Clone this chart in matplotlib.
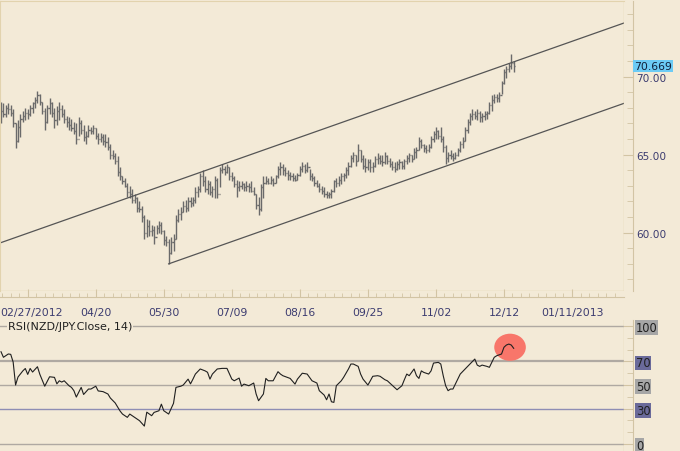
import numpy as np
import matplotlib.pyplot as plt
import matplotlib.transforms as mtransforms
from matplotlib.patches import Ellipse
from matplotlib.ticker import FixedLocator

# daily NZD/JPY bars (high, low, close)
hi = [68.40, 68.30, 68.20, 68.30, 68.20, 67.90, 67.00, 67.20, 67.60, 67.80,
      68.00, 67.90, 68.20, 68.40, 68.70, 69.10, 68.90, 68.40, 68.00, 68.20,
      68.60, 68.40, 68.00, 68.10, 68.40, 68.20, 67.90, 67.50, 67.40, 67.30,
      67.10, 67.00, 67.40, 67.20, 66.90, 66.50, 66.90, 66.80, 66.90, 66.70,
      66.40, 66.40, 66.30, 66.30, 66.10, 65.70, 65.30, 65.10, 64.90, 64.20,
      63.60, 63.50, 63.20, 63.00, 62.80, 62.50, 62.30, 62.00, 61.70, 61.10,
      60.90, 60.80, 60.50, 60.40, 60.50, 60.75, 60.70, 60.20, 59.80, 59.60,
      59.70, 59.90, 61.10, 61.50, 61.65, 62.00, 62.10, 62.30, 62.30, 62.30,
      62.90, 63.00, 63.80, 64.00, 63.60, 63.40, 63.30, 63.00, 63.60, 63.50,
      64.20, 64.40, 64.30, 64.40, 64.20, 63.90, 63.60, 63.40, 63.30, 63.30,
      63.20, 63.30, 63.20, 63.30, 62.90, 62.50, 62.30, 63.10, 63.60, 63.60,
      63.50, 63.60, 63.50, 63.70, 64.30, 64.50, 64.40, 64.20, 64.00, 63.90,
      63.80, 63.70, 63.80, 64.30, 64.50, 64.40, 64.50, 64.10, 63.80, 63.60,
      63.40, 63.20, 63.00, 62.90, 62.70, 62.60, 62.80, 63.40, 63.50, 63.60,
      63.80, 63.80, 64.20, 64.50, 65.00, 65.20, 65.00, 65.70, 65.30, 65.00,
      64.80, 64.70, 64.70, 64.50, 64.90, 65.10, 65.00, 65.00, 65.20, 65.00,
      64.80, 64.60, 64.50, 64.60, 64.70, 64.60, 64.70, 65.00, 65.10, 65.00,
      65.40, 65.50, 66.10, 66.00, 65.70, 65.60, 65.70, 66.20, 66.50, 66.80,
      66.60, 66.80, 66.20, 65.60, 65.20, 65.30, 65.10, 65.20, 65.40, 65.90,
      66.10, 66.80, 67.30, 67.70, 67.90, 67.80, 67.90, 67.80, 67.70, 67.80,
      67.80, 68.40, 68.80, 68.90, 68.90, 69.00, 69.70, 70.50, 70.70, 70.90,
      71.45, 71.00]
lo = [67.00, 67.40, 67.40, 67.60, 67.50, 66.80, 65.40, 65.80, 66.10, 67.10,
      67.20, 67.30, 67.50, 67.70, 68.00, 68.30, 68.20, 67.60, 66.60, 67.00,
      67.60, 67.40, 66.70, 66.90, 67.20, 67.40, 67.00, 66.80, 66.60, 66.50,
      66.30, 65.70, 66.20, 66.30, 65.90, 65.70, 66.10, 66.30, 66.30, 66.00,
      65.70, 65.80, 65.60, 65.50, 65.30, 64.70, 64.70, 64.40, 63.60, 63.40,
      63.10, 62.90, 62.30, 62.20, 61.90, 61.90, 61.30, 61.30, 60.70, 59.60,
      59.70, 59.80, 59.80, 59.30, 59.90, 60.00, 59.90, 59.20, 59.15, 58.00,
      58.60, 58.80, 59.60, 60.70, 60.80, 61.30, 61.30, 61.40, 61.65, 61.70,
      61.90, 62.30, 62.60, 63.00, 62.60, 62.50, 62.40, 62.30, 62.20, 62.20,
      62.90, 63.80, 63.70, 63.80, 63.40, 63.30, 62.90, 62.30, 62.70, 62.80,
      62.70, 62.70, 62.60, 62.60, 62.40, 61.50, 61.10, 61.40, 62.20, 63.10,
      63.10, 63.10, 63.00, 63.20, 63.50, 63.70, 63.70, 63.60, 63.40, 63.40,
      63.30, 63.30, 63.40, 63.60, 63.90, 63.80, 63.90, 63.40, 63.30, 63.00,
      62.90, 62.60, 62.50, 62.30, 62.20, 62.20, 62.20, 62.60, 62.90, 63.00,
      63.10, 63.30, 63.50, 63.70, 64.20, 64.50, 64.30, 64.60, 64.50, 64.10,
      63.90, 64.00, 63.90, 63.90, 64.20, 64.40, 64.40, 64.30, 64.40, 64.40,
      64.20, 64.00, 63.90, 64.00, 64.10, 64.10, 64.10, 64.40, 64.50, 64.50,
      64.70, 64.80, 65.30, 65.40, 65.20, 65.10, 65.20, 65.40, 65.80, 66.00,
      66.00, 65.80, 65.20, 64.40, 64.50, 64.70, 64.60, 64.70, 64.90, 65.20,
      65.40, 65.90, 66.40, 66.90, 67.20, 67.30, 67.20, 67.10, 67.10, 67.20,
      67.30, 67.60, 67.80, 68.30, 68.40, 68.40, 68.90, 69.50, 69.90, 70.30,
      70.50, 70.30]
cl = [67.80, 67.60, 68.00, 67.90, 67.70, 67.00, 65.90, 66.80, 67.30, 67.50,
      67.70, 67.60, 68.00, 68.30, 68.50, 68.80, 68.40, 67.80, 67.10, 68.00,
      68.30, 67.70, 67.20, 67.80, 67.90, 67.60, 67.30, 67.10, 66.90, 66.70,
      66.50, 66.00, 67.00, 66.60, 66.10, 66.20, 66.60, 66.50, 66.70, 66.20,
      66.00, 66.10, 65.90, 65.80, 65.50, 65.00, 64.90, 64.60, 63.90, 63.60,
      63.30, 63.00, 62.60, 62.50, 62.10, 62.20, 61.60, 61.50, 61.00, 60.00,
      60.40, 60.10, 60.20, 59.70, 60.30, 60.50, 60.10, 59.50, 59.40, 58.70,
      59.40, 59.60, 60.80, 61.20, 61.30, 61.70, 61.60, 62.00, 61.90, 62.10,
      62.60, 62.80, 63.60, 63.30, 62.80, 63.10, 62.60, 62.80, 63.40, 62.50,
      64.00, 64.10, 63.90, 64.20, 63.60, 63.50, 63.10, 62.90, 63.00, 63.10,
      62.90, 63.00, 62.90, 62.70, 62.50, 61.80, 61.50, 62.90, 63.20, 63.30,
      63.20, 63.40, 63.20, 63.60, 64.10, 64.20, 64.00, 63.80, 63.70, 63.60,
      63.50, 63.40, 63.70, 64.10, 64.30, 64.00, 64.20, 63.60, 63.50, 63.20,
      63.00, 62.80, 62.70, 62.50, 62.40, 62.50, 62.70, 63.30, 63.20, 63.40,
      63.60, 63.70, 64.00, 64.30, 64.80, 65.00, 64.60, 65.30, 64.70, 64.30,
      64.20, 64.50, 64.20, 64.30, 64.70, 64.80, 64.60, 64.50, 64.90, 64.60,
      64.40, 64.20, 64.10, 64.40, 64.50, 64.30, 64.60, 64.80, 65.00, 64.70,
      65.20, 65.30, 65.90, 65.60, 65.40, 65.30, 65.50, 66.00, 66.30, 66.50,
      66.20, 66.00, 65.50, 64.80, 65.00, 64.90, 64.80, 65.00, 65.30, 65.70,
      65.90, 66.60, 67.10, 67.50, 67.60, 67.50, 67.70, 67.40, 67.50, 67.60,
      67.70, 68.20, 68.50, 68.70, 68.60, 68.80, 69.60, 70.30, 70.50, 70.70,
      70.90, 70.669]
first_open = 67.60
last_price = 70.669

# RSI(14) readings: bar index -> value
rsi_idx = [0, 1, 3, 4, 5, 6, 7, 9, 10, 11, 12, 13, 15, 16, 18, 20, 22, 23, 24,
           25, 26, 28, 29, 30, 31, 33, 34, 36, 37, 39, 40, 42, 44, 45, 47, 49,
           50, 52, 53, 55, 57, 59, 60, 62, 63, 65, 66, 67, 69, 70, 71, 72, 74,
           75, 77, 78, 79, 80, 82, 84, 85, 86, 87, 89, 91, 93, 95, 96, 98, 99,
           100, 102, 104, 105, 106, 108, 109, 110, 112, 114, 115, 116, 119,
           121, 122, 124, 126, 128, 130, 131, 133, 134, 135, 136, 137, 138,
           140, 141, 143, 144, 145, 147, 148, 149, 151, 152, 153, 155, 156,
           158, 159, 160, 162, 163, 165, 166, 167, 168, 170, 171, 172, 173,
           174, 176, 177, 178, 180, 181, 182, 183, 184, 185, 186, 188, 189,
           191, 192, 193, 195, 196, 197, 198, 200, 201, 202, 203, 204, 206,
           207, 208, 209, 210, 211]
rsi_val = [78.2, 73.5, 76.3, 76.0, 69.5, 50.0, 56.8, 62.0, 64.0, 59.0, 64.0,
           61.0, 65.5, 59.0, 49.0, 57.0, 56.5, 51.0, 53.6, 52.5, 53.6, 49.4,
           48.0, 45.2, 39.8, 48.0, 42.0, 46.6, 46.6, 49.0, 45.0, 44.4, 42.4,
           39.0, 34.8, 28.0, 25.4, 22.6, 25.4, 22.6, 19.8, 15.2, 27.0, 24.0,
           26.8, 28.2, 33.8, 28.2, 25.4, 30.0, 34.5, 48.0, 49.0, 50.0, 55.0,
           51.0, 55.0, 59.3, 63.6, 62.0, 60.8, 55.0, 59.3, 63.6, 64.1, 64.1,
           55.0, 53.6, 55.9, 49.0, 50.8, 49.4, 51.7, 42.4, 36.7, 42.4, 55.6,
           53.6, 53.6, 61.3, 59.3, 57.9, 55.6, 50.8, 55.0, 60.0, 59.3, 53.6,
           51.7, 45.2, 41.5, 37.5, 42.4, 35.8, 35.3, 49.4, 53.5, 56.5, 63.6,
           67.8, 67.8, 65.8, 59.3, 55.0, 50.0, 53.6, 57.4, 57.9, 57.4, 54.5,
           53.6, 51.7, 48.0, 46.0, 49.4, 54.5, 59.3, 57.9, 63.6, 57.9, 55.6,
           62.0, 60.7, 59.3, 62.0, 68.6, 69.2, 67.8, 57.9, 49.4, 45.2, 46.6,
           46.6, 55.0, 59.3, 63.6, 65.8, 67.8, 72.0, 66.9, 65.8, 66.9, 65.8,
           65.0, 69.2, 73.5, 74.8, 76.3, 82.0, 83.9, 84.7, 83.9, 81.1]
rsi_levels = [100, 70, 50, 30, 0]

# channel lines (bar index, price)
upper_chan = ([-0.4, 256.4], [59.34, 73.44])
lower_chan = ([69, 256.4], [58.00, 68.29])
# highlight circle on the RSI (centre bar, centre value)
circle_at = (209.5, 82.0)

tick_idx = [11, 39, 67, 95, 123, 151, 179, 207, 235]
tick_lab = ['02/27/2012', '04/20', '05/30', '07/09', '08/16', '09/25',
            '11/02', '12/12', '01/11/2013']

bg = '#F3EAD7'
frame = '#E2D3AE'
axcol = '#D2C4A4'
txt = '#3C3C70'
plt.rcParams['font.family'] = 'DejaVu Sans'

fig = plt.figure(figsize=(6.8, 4.52), dpi=100, facecolor=bg)
ax = fig.add_axes([0, 1 - 292 / 452, 624 / 680, 290 / 452], facecolor=bg)
ax2 = fig.add_axes([0, 0, 624 / 680, 131 / 452], facecolor=bg)

x = np.arange(len(cl))
op = np.r_[first_open, cl[:-1]]
barc = '#6A6A6A'
ax.vlines(x, lo, hi, color=barc, lw=1)
ax.hlines(op, x - 0.45, x, color=barc, lw=1)
ax.hlines(cl, x, x + 0.45, color=barc, lw=1)
ax.plot(*upper_chan, color='#555555', lw=0.9)
ax.plot(*lower_chan, color='#555555', lw=0.9)

ax.set_xlim(-0.41, 256.4)
ax.set_ylim(56.26, 74.85)
ax.yaxis.tick_right()
ax.set_yticks([60, 65, 70])
ax.set_yticklabels(['60.00', '65.00', '70.00'])
ax.yaxis.set_minor_locator(FixedLocator(np.arange(57, 75, 1.0)))
ax.set_xticks(tick_idx)
ax.set_xticklabels(tick_lab)
ax.xaxis.set_minor_locator(FixedLocator(np.arange(0.5, 256, 3.5)))
for s in ['top', 'left']:
    ax.spines[s].set_color(frame)
ax.spines['right'].set_position(('outward', 6.5))
ax.spines['bottom'].set_position(('outward', 4.3))
ax.spines['right'].set_color(axcol)
ax.spines['bottom'].set_color(axcol)
ax.axvline(256.4, color=frame, lw=1)
ax.axhline(56.26, color=frame, lw=1)
ax.tick_params(axis='both', which='both', direction='in', color=axcol,
               labelcolor=txt)
ax.tick_params(axis='y', which='major', length=7, pad=2, labelsize=7.6)
ax.tick_params(axis='y', which='minor', length=4)
ax.tick_params(axis='x', which='major', length=6, pad=7, labelsize=7.8)
ax.tick_params(axis='x', which='minor', length=3)
for t in ax.get_yticklabels():
    t.set_horizontalalignment('left')
# first date label sits against the left edge, as in the original
first = ax.get_xticklabels()[0]
first.set_transform(first.get_transform() +
                    mtransforms.ScaledTranslation(4 / 100, 0, fig.dpi_scale_trans))
ax.text(1.016, last_price, f'{last_price:.3f}', transform=ax.get_yaxis_transform(),
        ha='left', va='center', fontsize=7.8, color='#10203A',
        bbox=dict(boxstyle='square,pad=0.1', fc='#6CCBF5', ec='none'))

# RSI panel
for lv in rsi_levels:
    c = '#8E8EB4' if lv == 30 else '#AFA9A2'
    ax2.axhline(lv, color=c, lw=1.6 if lv == 70 else 1)
ax2.add_patch(Ellipse(circle_at, 13, 23, fc='#F8766A', ec='none', zorder=3))
ax2.plot(rsi_idx, rsi_val, color='#202020', lw=0.8, zorder=4)
ax2.set_xlim(-0.41, 256.4)
ax2.set_ylim(-5.9, 105.1)
ax2.set_xticks([])
ax2.yaxis.tick_right()
ax2.set_yticks(rsi_levels)
ax2.set_yticklabels([str(v) for v in rsi_levels])
ax2.yaxis.set_minor_locator(FixedLocator(np.arange(0, 101, 10)))
for s in ['top', 'left', 'bottom']:
    ax2.spines[s].set_visible(False)
ax2.spines['right'].set_position(('outward', 6.5))
ax2.spines['right'].set_color(axcol)
ax2.axvline(256.4, color=frame, lw=1)
ax2.tick_params(axis='y', which='both', direction='in', color=axcol,
                labelcolor='#202020', labelsize=8.3)
ax2.tick_params(axis='y', which='major', length=7, pad=2)
ax2.tick_params(axis='y', which='minor', length=4)
for t, lv in zip(ax2.get_yticklabels(), rsi_levels):
    t.set_horizontalalignment('left')
    fc = '#6A6A9A' if lv in (70, 30) else '#A6A6A6'
    t.set_bbox(dict(boxstyle='square,pad=0.08', fc=fc, ec='none'))
ax2.text(8 / 624, 100, 'RSI(NZD/JPY.Close, 14)', transform=ax2.get_yaxis_transform(),
         ha='left', va='center', fontsize=8, color='#202020', zorder=5,
         bbox=dict(boxstyle='square,pad=0.1', fc=bg, ec='none'))

fig.savefig('out.png', dpi=100, facecolor=bg)
